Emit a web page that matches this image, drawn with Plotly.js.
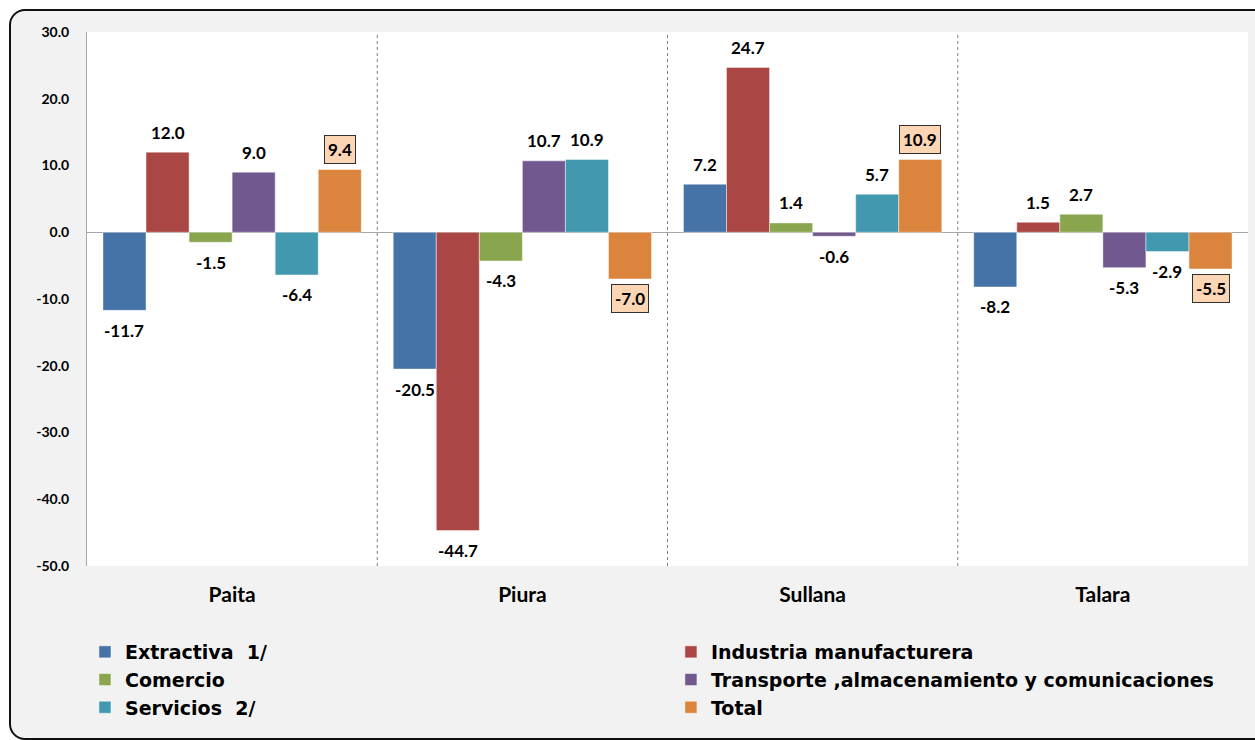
<!DOCTYPE html>
<html>
<head>
<meta charset="utf-8">
<script src="https://cdn.plot.ly/plotly-3.0.1.min.js"></script>
<style>
  html, body { margin: 0; padding: 0; background: #ffffff; overflow: hidden; }
  #frame { position: absolute; left: 9px; top: 9px; width: 1260px; height: 727px;
           border: 2px solid #111; border-radius: 16px; background: #f2f2f2; }
  #chart { position: absolute; left: 0; top: 0; width: 1255px; height: 740px; }
</style>
</head>
<body>
<div id="frame"></div>
<div id="chart"></div>
<script>
const categories = ["Paita", "Piura", "Sullana", "Talara"];
const seriesNames = ["Extractiva\u00a0\u00a01/", "Industria manufacturera", "Comercio",
  "Transporte ,almacenamiento y comunicaciones", "Servicios\u00a0\u00a02/", "Total"];
const extractiva = [-11.7, -20.5, 7.2, -8.2];
const industria = [12.0, -44.7, 24.7, 1.5];
const comercio = [-1.5, -4.3, 1.4, 2.7];
const transporte = [9.0, 10.7, -0.6, -5.3];
const servicios = [-6.4, 10.9, 5.7, -2.9];
const total = [9.4, -7.0, 10.9, -5.5];
const yTicks = [-50, -40, -30, -20, -10, 0, 10, 20, 30];

const seriesValues = [extractiva, industria, comercio, transporte, servicios, total];
const colors = ["#4572a7", "#aa4643", "#89a54e", "#71588f", "#4198af", "#db843d"];
const FONT = "Lato, 'Open Sans', sans-serif";
const LEGFONT = "'DejaVu Sans', 'Open Sans', sans-serif";
const bargap = 0.11;

const traces = seriesValues.map((vals, k) => ({
  type: "bar",
  name: seriesNames[k],
  x: categories,
  y: vals,
  legend: k % 2 === 0 ? "legend" : "legend2",
  marker: { color: colors[k], line: { color: "rgba(255,255,255,0.45)", width: 1 } },
  hoverinfo: "none"
}));

const n = seriesValues.length;
const w = (1 - bargap) / n;
const annotations = [];
seriesValues.forEach((vals, k) => {
  vals.forEach((v, i) => {
    const isTotal = k === n - 1;
    const a = {
      x: i - (1 - bargap) / 2 + (k + 0.5) * w,
      y: v,
      xref: "x", yref: "y",
      text: v.toFixed(1),
      showarrow: false,
      yanchor: "middle",
      yshift: v >= 0 ? 20 : -20,
      font: { family: FONT, size: 17, color: "#000", weight: "bold" }
    };
    if (isTotal) {
      a.bgcolor = "#fcd5b4";
      a.bordercolor = "#303030";
      a.borderwidth = 1;
      a.borderpad = 3;
    }
    annotations.push(a);
  });
});

const shapes = [0.5, 1.5, 2.5].map(xv => ({
  type: "line", xref: "x", yref: "paper",
  x0: xv, x1: xv, y0: 0, y1: 1,
  line: { color: "#7f7f7f", width: 1, dash: "dot" }
}));

const legendBase = {
  orientation: "v",
  xref: "container", yref: "container",
  xanchor: "left", yanchor: "top",
  y: 0.1446,
  bgcolor: "rgba(0,0,0,0)",
  font: { family: LEGFONT, size: 19, color: "#000", weight: "bold" },
  traceorder: "normal",
  tracegroupgap: 0
};

const layout = {
  width: 1255, height: 740,
  margin: { l: 87, r: 7, t: 32, b: 174, autoexpand: false },
  paper_bgcolor: "rgba(0,0,0,0)",
  plot_bgcolor: "#ffffff",
  barmode: "group",
  bargap: bargap,
  bargroupgap: 0,
  showlegend: true,
  font: { family: FONT, color: "#000" },
  xaxis: {
    type: "category",
    showgrid: false, zeroline: false, showline: false,
    ticks: "",
    ticklabelstandoff: 14,
    tickfont: { family: FONT, size: 21, color: "#000", weight: "bold" }
  },
  yaxis: {
    range: [-50, 30],
    tickvals: yTicks,
    ticktext: yTicks.map(t => t.toFixed(1)),
    showgrid: false,
    zeroline: true, zerolinecolor: "#a6a6a6", zerolinewidth: 1.5,
    showline: true, linecolor: "#a6a6a6", linewidth: 1,
    ticks: "",
    ticklabelstandoff: 14,
    tickfont: { family: FONT, size: 14, color: "#000", weight: "bold" }
  },
  legend: Object.assign({}, legendBase, { x: 0.0677 }),
  legend2: Object.assign({}, legendBase, { x: 0.5346 }),
  annotations: annotations,
  shapes: shapes
};

Plotly.newPlot("chart", traces, layout, { staticPlot: true, displayModeBar: false });
</script>
</body>
</html>
